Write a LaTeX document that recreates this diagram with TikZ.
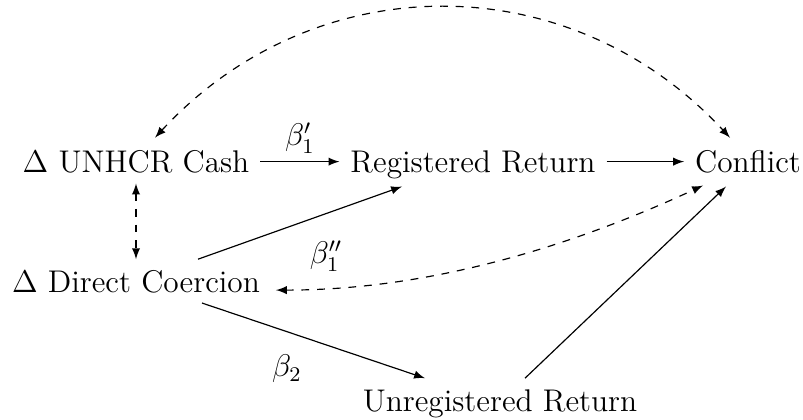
\documentclass[12pt,tikz,border=0pt]{standalone}
\usetikzlibrary{calc,arrows}
\begin{document}
\begin{tikzpicture}[x=0.3826pt,y=-0.3826pt,
  line width=0.45pt,
  var/.style={anchor=base,inner sep=0.333em,text height=0.694em,text depth=0pt},
  lab/.style={inner sep=0pt},
  causal/.style={-latex},
  assoc/.style={latex-latex,dashed}]
\useasboundingbox (0,0) rectangle (803,420);
\node[var] (cash)  at (136,172.5) {$\Delta$ UNHCR Cash};
\node[var] (reg)   at (473,172.5) {Registered Return};
\node[var] (conf)  at (748,172.5) {Conflict};
\node[var] (coer)  at (136,292)   {$\Delta$ Direct Coercion};
\node[var] (unreg) at (500,411)   {Unregistered Return};
\node[lab] (b1)  at (300,138) {$\beta_1'$};
\node[lab] (b1b) at (326,256) {$\beta_1''$};
\node[lab] (b2)  at (287,369) {$\beta_2$};
\draw[causal] (cash.east) -- (reg.west);
\draw[causal] (reg.east) -- (conf.west);
\draw[assoc] (cash.south) -- (coer.north);
\draw[causal] ($(coer.north)+(62,0)$) -- ($(reg.south)+(-71,3)$);
\draw[causal] ($(coer.south)+(66,0)$) -- ($(unreg.north)+(-75,0)$);
\draw[causal] ($(unreg.north)+(25,0)$) -- ($(conf.south)+(-22,3)$);
\draw[assoc] ($(cash.north)+(19,-2)$) .. controls ($(cash.north)+(179,-175)$) and ($(conf.north)+(-178,-175)$) .. ($(conf.north)+(-18,-2)$);
\draw[assoc] ($(coer.east)+(5,9)$) .. controls ($(coer.east)+(155,9)$) and ($(conf.south)+(-181,65)$) .. ($(conf.south)+(-45,2)$);
\end{tikzpicture}
\end{document}
